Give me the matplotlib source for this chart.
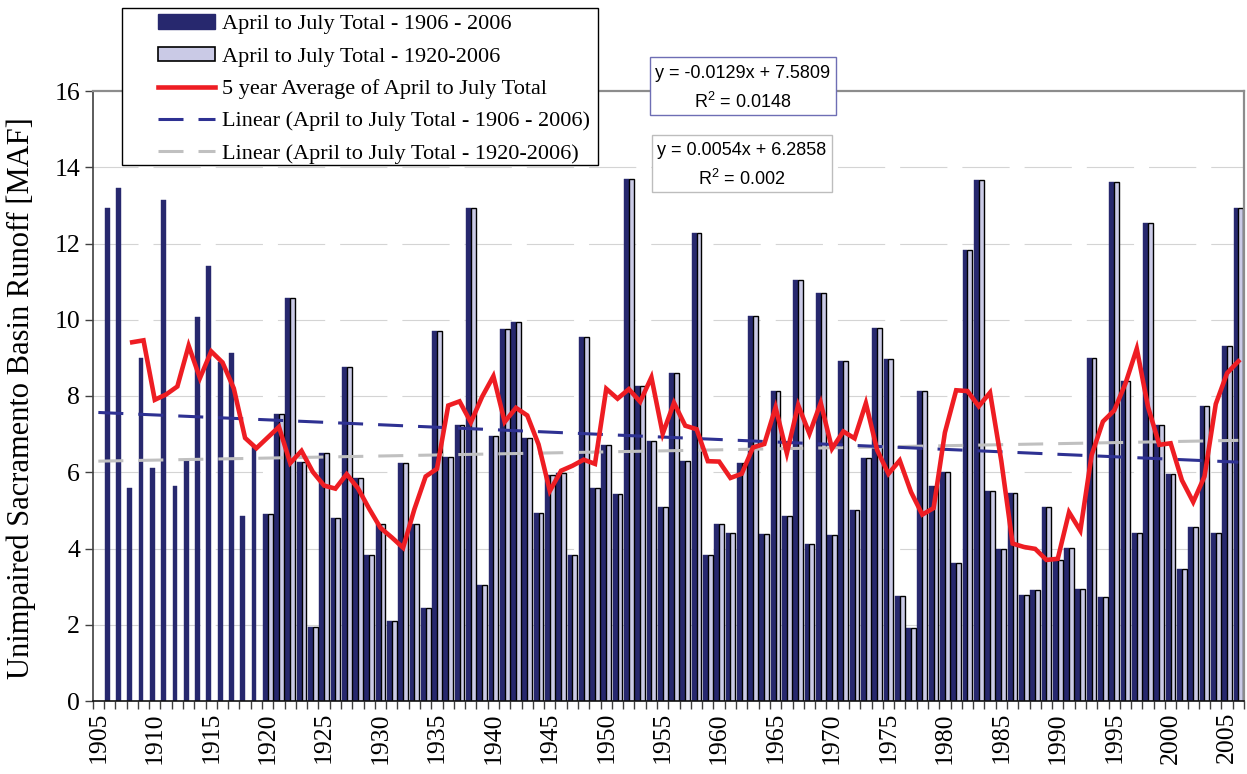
import numpy as np
import matplotlib
matplotlib.use("Agg")
import matplotlib.pyplot as plt
from matplotlib.patches import Rectangle
from matplotlib.lines import Line2D

# ---------------- data ----------------
years = list(range(1906, 2007))
runoff = [12.92, 13.45, 5.60, 8.99, 6.11, 13.14, 5.64, 6.30, 10.08, 11.42,
          8.90, 9.14, 4.86, 6.69, 4.90, 7.54, 10.57, 6.27, 1.94, 6.50,
          4.79, 8.76, 5.86, 3.84, 4.65, 2.09, 6.24, 4.65, 2.45, 9.70,
          6.41, 7.24, 12.93, 3.04, 6.94, 9.76, 9.93, 6.91, 4.93, 5.92,
          5.97, 3.82, 9.56, 5.58, 6.72, 5.42, 13.69, 8.26, 6.82, 5.08,
          8.61, 6.30, 12.27, 3.84, 4.65, 4.40, 6.24, 10.10, 4.39, 8.14,
          4.84, 11.03, 4.12, 10.69, 4.35, 8.91, 5.02, 6.38, 9.79, 8.96,
          2.75, 1.92, 8.13, 5.64, 6.00, 3.63, 11.82, 13.67, 5.52, 4.00,
          5.45, 2.79, 2.90, 5.08, 3.71, 4.02, 2.93, 8.99, 2.72, 13.61,
          8.39, 4.40, 12.55, 7.25, 5.95, 3.46, 4.57, 7.74, 4.40, 9.30,
          12.94]
years_1920 = list(range(1920, 2007))
runoff_1920 = runoff[years.index(1920):]

avg_years = list(range(1908, 2007))
avg5 = [9.41, 9.46, 7.90, 8.04, 8.25, 9.32, 8.47, 9.17, 8.88, 8.20,
        6.90, 6.63, 6.91, 7.19, 6.24, 6.56, 6.01, 5.65, 5.57, 5.95,
        5.58, 5.04, 4.54, 4.29, 4.02, 5.03, 5.89, 6.09, 7.75, 7.86,
        7.31, 7.98, 8.52, 7.32, 7.69, 7.49, 6.73, 5.51, 6.04, 6.17,
        6.33, 6.22, 8.19, 7.93, 8.18, 7.85, 8.49, 7.01, 7.82, 7.22,
        7.13, 6.29, 6.28, 5.85, 5.96, 6.65, 6.74, 7.70, 6.50, 7.76,
        7.01, 7.82, 6.62, 7.07, 6.89, 7.81, 6.58, 5.96, 6.31, 5.48,
        4.89, 5.06, 7.04, 8.15, 8.13, 7.73, 8.09, 6.29, 4.13, 4.04,
        3.99, 3.70, 3.73, 4.95, 4.47, 6.45, 7.33, 7.62, 8.33, 9.24,
        7.71, 6.72, 6.76, 5.79, 5.22, 5.89, 7.79, 8.60, 8.91]

trend_all = (-0.0129, 7.5809)     # y = a*x + b, x = category index (1905 -> 1)
trend_1920 = (0.0054, 6.2858)
eq_all = ["y = -0.0129x + 7.5809", "R$^2$ = 0.0148"]
eq_1920 = ["y = 0.0054x + 6.2858", "R$^2$ = 0.002"]

first_year = 1905
last_year = 2006
xtick_years = list(range(1905, 2006, 5))
yticks = list(range(0, 17, 2))

legend_labels = ["April to July Total - 1906 - 2006",
                 "April to July Total - 1920-2006",
                 "5 year Average of April to July Total",
                 "Linear (April to July Total - 1906 - 2006)",
                 "Linear (April to July Total - 1920-2006)"]
ylabel = "Unimpaired Sacramento Basin Runoff [MAF]"

# ---------------- style ----------------
DARK = "#27286E"
LIGHT = "#CACAE6"
RED = "#EE1D23"
BLUE = "#2E3192"
GRAY = "#C0C0C0"
SERIF = "Liberation Serif"
SANS = "Liberation Sans"
plt.rcParams["mathtext.fontset"] = "custom"
plt.rcParams["mathtext.rm"] = SANS
plt.rcParams["mathtext.it"] = SANS

W, H = 1247, 774
fig = plt.figure(figsize=(W / 100, H / 100), dpi=100)
L, R, T, B = 92.7, 1244, 91, 701
ax = fig.add_axes([L / W, 1 - B / H, (R - L) / W, (B - T) / H])

bw = 0.43
x_all = np.array(years, dtype=float)
x_20 = np.array(years_1920, dtype=float)
ax.bar(x_all - bw / 2, runoff, width=bw, color=DARK, edgecolor=DARK,
       linewidth=0.3, zorder=2)
ax.bar(x_20 + bw / 2, runoff_1920, width=bw, color=LIGHT, edgecolor="black",
       linewidth=1.0, zorder=2)

# trend lines
tx = np.array([first_year, last_year], dtype=float)
idx = tx - (first_year - 1)
lw_t = 2.2
dash_t = (0, (18 / lw_t, 10.8 / lw_t))
ax.plot(tx, trend_1920[0] * idx + trend_1920[1], color=GRAY, lw=lw_t,
        linestyle=dash_t, zorder=3)
ax.plot(tx, trend_all[0] * idx + trend_all[1], color=BLUE, lw=lw_t,
        linestyle=dash_t, zorder=3)

# 5 year average
ax.plot(avg_years, avg5, color=RED, lw=3.3, zorder=4, solid_joinstyle="miter")

ax.set_xlim(first_year - 0.5, last_year + 0.5)
ax.set_ylim(0, 16)

# grid
lw_g = 0.8
for yv in yticks[1:-1]:
    ax.axhline(yv, color="#D4D4D4", lw=lw_g, linestyle=(2, (34 / lw_g, 10.8 / lw_g)),
               zorder=1)

# ticks
ax.set_xticks(np.arange(first_year - 0.5, last_year + 1.0, 1.0))
ax.set_xticklabels([])
ax.set_xticks(xtick_years, minor=True)
ax.set_xticklabels([str(y) for y in xtick_years], minor=True, rotation=90,
                   fontsize=18.5, fontfamily=SERIF, va="top")
ax.tick_params(axis="x", which="major", length=6, width=1.0, color="#404040",
               direction="out")
ax.tick_params(axis="x", which="minor", length=0, pad=8)
ax.set_yticks(yticks)
ax.set_yticklabels([str(v) for v in yticks], fontsize=18.5, fontfamily=SERIF)
ax.tick_params(axis="y", length=6, width=1.0, color="#404040", pad=3)

for s in ("top", "right"):
    ax.spines[s].set_color("#8C8C8C")
    ax.spines[s].set_linewidth(1.6)
ax.spines["left"].set_color("#404040")
ax.spines["left"].set_linewidth(1.2)
ax.spines["bottom"].set_color("#111111")
ax.spines["bottom"].set_linewidth(1.2)

fig.text(21 / W, 1 - 398 / H, ylabel, rotation=90, ha="center", va="center",
         fontsize=22, fontfamily=SERIF)

# legend box
fig.patches.append(Rectangle((122 / W, 1 - 165 / H), (598 - 122) / W, (165 - 8) / H,
                             transform=fig.transFigure, facecolor="white",
                             edgecolor="black", lw=1.0, zorder=4))
handles = [
    Rectangle((0, 0), 1, 1, facecolor=DARK, edgecolor=DARK),
    Rectangle((0, 0), 1, 1, facecolor=LIGHT, edgecolor="black", lw=1.2),
    Line2D([], [], color=RED, lw=3.3),
    Line2D([], [], color=BLUE, lw=lw_t, linestyle=dash_t),
    Line2D([], [], color=GRAY, lw=lw_t, linestyle=dash_t),
]
fig.legend(handles, legend_labels, loc="upper left",
           bbox_to_anchor=(158 / W, 1 - 14.5 / H), frameon=False, borderpad=0,
           borderaxespad=0, handlelength=2.57, handleheight=0.6,
           handletextpad=0.3, labelspacing=0.56,
           prop={"family": SERIF, "size": 16})

# equation boxes
def eq_box(x0, y0, x1, y1, lines, ec):
    fig.patches.append(Rectangle((x0 / W, 1 - y1 / H), (x1 - x0) / W, (y1 - y0) / H,
                                 transform=fig.transFigure, facecolor="white",
                                 edgecolor=ec, lw=1.0, zorder=4))
    cx = (x0 + x1) / 2
    n = len(lines)
    for i, t in enumerate(lines):
        cy = y0 + (y1 - y0) * (i + 0.5) / n + 1.5
        fig.text(cx / W, 1 - cy / H, t, ha="center", va="center", fontsize=13,
                 fontfamily=SANS, zorder=6)

eq_box(650, 57, 836, 115, eq_all, "#6E6EB4")
eq_box(652, 135, 832, 192, eq_1920, "#BDBDBD")

fig.savefig("out.png", dpi=100)
